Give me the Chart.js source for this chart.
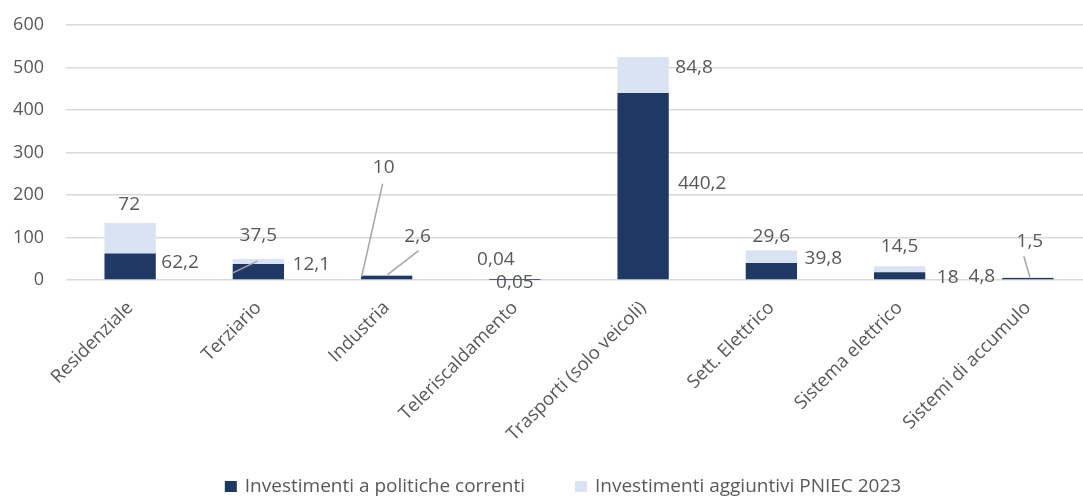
<!DOCTYPE html>
<html>
<head>
<meta charset="utf-8">
<script src="https://cdn.jsdelivr.net/npm/chart.js@4"></script>
<style>
  html, body { margin: 0; padding: 0; background: #fff; overflow: hidden; }
  #wrap { width: 1100px; height: 496px; }
</style>
</head>
<body>
<div id="wrap"><canvas id="investChart" width="1100" height="496"></canvas></div>
<script>
// settori
const categories = [
    'Residenziale',
    'Terziario',
    'Industria',
    'Teleriscaldamento',
    'Trasporti (solo veicoli)',
    'Sett. Elettrico',
    'Sistema elettrico',
    'Sistemi di accumulo'
];

// miliardi di euro
const correnti = [62.2, 37.5, 10, 0.05, 440.2, 39.8, 18, 4.8];
const aggiuntivi = [72, 12.1, 2.6, 0.04, 84.8, 29.6, 14.5, 1.5];

const seriesNames = ['Investimenti a politiche correnti', 'Investimenti aggiuntivi PNIEC 2023'];
const yMax = 600;
const yStep = 100;

const darkBlue = '#1f3864';
const lightBlue = '#dae3f3';
const textGrey = '#595959';

// where each value label sits, relative to the top of its bar segment
// lead = optional leader line [x1, y1, x2, y2] in the same frame
const labelPlace = [
    [
        { dx: 50, dy: 9 },
        { dx: 0, dy: -28, lead: [-26, 9, -1, -3] },
        { dx: -3, dy: -108, lead: [-4, -92, -25, 1] },
        { dx: 0, dy: 3 },
        { dx: 59, dy: 91 },
        { dx: 52, dy: -4 },
        { dx: 48, dy: 5 },
        { dx: -46, dy: -1 }
    ],
    [
        { dx: -1, dy: -18 },
        { dx: 53, dy: 6 },
        { dx: 31, dy: -38, lead: [32, -24, 1, 0] },
        { dx: -19, dy: -20 },
        { dx: 51, dy: 11 },
        { dx: 0, dy: -14 },
        { dx: 0, dy: -20 },
        { dx: 2, dy: -36, lead: [-4, -21, 2, 0] }
    ]
];

function fmt(v) {
    return String(v).replace('.', ',');
}

const valueLabels = {
    id: 'valueLabels',
    afterDatasetsDraw(chart) {
        const ctx = chart.ctx;
        ctx.save();
        ctx.font = '19px "Open Sans"';
        ctx.fillStyle = textGrey;
        ctx.textAlign = 'center';
        ctx.textBaseline = 'middle';
        chart.data.datasets.forEach((ds, di) => {
            const meta = chart.getDatasetMeta(di);
            meta.data.forEach((bar, i) => {
                const p = labelPlace[di][i];
                if (p.lead) {
                    ctx.beginPath();
                    ctx.strokeStyle = '#a6a6a6';
                    ctx.lineWidth = 1.5;
                    ctx.moveTo(bar.x + p.lead[0], bar.y + p.lead[1]);
                    ctx.lineTo(bar.x + p.lead[2], bar.y + p.lead[3]);
                    ctx.stroke();
                }
                ctx.fillText(fmt(ds.data[i]), bar.x + p.dx, bar.y + p.dy);
            });
        });
        ctx.restore();
    }
};

// legend drawn by hand, centred under the plot
const bottomLegend = {
    id: 'bottomLegend',
    afterDraw(chart) {
        const ctx = chart.ctx;
        const cy = 487;
        const gap = 50;
        ctx.save();
        ctx.font = '19px "Open Sans"';
        ctx.textBaseline = 'middle';
        ctx.textAlign = 'left';
        const items = chart.data.datasets.map(ds => ({
            text: ds.label,
            color: ds.backgroundColor,
            w: 20 + ctx.measureText(ds.label).width
        }));
        const total = items.reduce((s, it) => s + it.w, 0) + gap * (items.length - 1);
        let x = 563 - total / 2;
        items.forEach(it => {
            ctx.fillStyle = it.color;
            ctx.fillRect(x, cy - 6, 12, 11);
            ctx.fillStyle = textGrey;
            ctx.fillText(it.text, x + 20, cy);
            x += it.w + gap;
        });
        ctx.restore();
    }
};

const ctx = document.getElementById('investChart').getContext('2d');
const investChart = new Chart(ctx, {
    type: 'bar',
    data: {
        labels: categories,
        datasets: [{
            label: seriesNames[0],
            data: correnti,
            backgroundColor: darkBlue,
            categoryPercentage: 1,
            barPercentage: 0.4
        }, {
            label: seriesNames[1],
            data: aggiuntivi,
            backgroundColor: lightBlue,
            categoryPercentage: 1,
            barPercentage: 0.4
        }]
    },
    options: {
        responsive: false,
        animation: false,
        layout: {
            padding: { top: 25, right: 8, left: 0, bottom: 0 }
        },
        plugins: {
            legend: { display: false },
            tooltip: { enabled: false }
        },
        scales: {
            x: {
                stacked: true,
                grid: { display: false },
                border: { display: false },
                ticks: {
                    color: textGrey,
                    font: { family: 'Open Sans', size: 18.5 },
                    minRotation: 45,
                    maxRotation: 45,
                    padding: 9
                },
                afterFit(scale) { scale.height = 216; }
            },
            y: {
                stacked: true,
                min: 0,
                max: yMax,
                grid: {
                    color: '#d9d9d9',
                    lineWidth: 1.5,
                    drawTicks: true,
                    tickLength: 22,
                    tickColor: 'rgba(0,0,0,0)'
                },
                border: { display: false },
                ticks: {
                    stepSize: yStep,
                    color: textGrey,
                    font: { family: 'Open Sans', size: 18 },
                    padding: 0
                },
                afterFit(scale) { scale.width = 66; }
            }
        }
    },
    plugins: [valueLabels, bottomLegend]
});
</script>
</body>
</html>
